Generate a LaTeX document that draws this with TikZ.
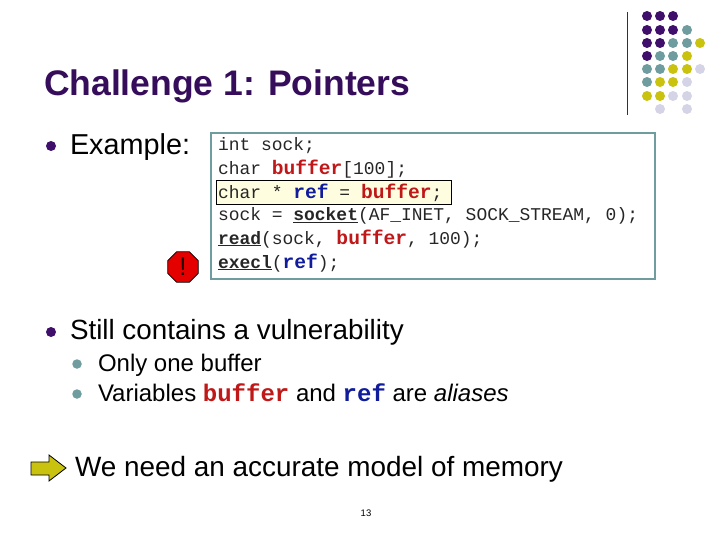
\documentclass[tikz,border=0pt]{standalone}
\usepackage{fontspec}
\setmainfont{Liberation Sans}
\setmonofont{Liberation Mono}
\usetikzlibrary{shapes.geometric}
\definecolor{cpurple}{HTML}{3F0F6B}
\definecolor{cteal}{HTML}{6F9C9E}
\definecolor{cyellow}{HTML}{C9C30F}
\definecolor{clav}{HTML}{D4D4E6}
\definecolor{cred}{HTML}{C01818}
\definecolor{cblue}{HTML}{101C9C}
\newcommand{\px}[1]{\fontsize{#1}{#1}\selectfont}
\newcommand{\cd}{\px{17.95}\ttfamily}
\newcommand{\rb}[1]{{\px{19.6}\ttfamily\bfseries\color{cred}#1}}
\newcommand{\bl}[1]{{\px{19.6}\ttfamily\bfseries\color{cblue}#1}}
\newcommand{\fn}[1]{{\ttfamily\bfseries\underline{#1}}}
\tikzset{
 txt/.style={anchor=base west,inner sep=0pt,outer sep=0pt,text=black},
 code/.style={txt,font=\cd,text=black!85},
 dotp/.style={circle,fill=#1,inner sep=0pt,minimum size=10pt,draw=none}
}
\begin{document}
\begin{tikzpicture}[x=1pt,y=-1pt]
\useasboundingbox[fill=white] (0,0) rectangle (720,540);
% decoration
\draw[line width=1pt,black!80] (627,12) -- (627,115);
\foreach \x/\y/\c in {647/16/cpurple,660/16/cpurple,673/16/cpurple,
 647/30/cpurple,660/30/cpurple,673/30/cpurple,687/30/cteal,
 647/43/cpurple,660/43/cpurple,673/43/cteal,687/43/cteal,700/43/cyellow,
 647/56/cpurple,660/56/cteal,673/56/cteal,687/56/cyellow,
 647/69/cteal,660/69/cteal,673/69/cyellow,687/69/cyellow,700/69/clav,
 647/82/cteal,660/82/cyellow,673/82/cyellow,687/82/clav,
 647/96/cyellow,660/96/cyellow,673/96/clav,687/96/clav,
 660/109/clav,687/109/clav}
 \node[dotp=\c] at (\x,\y) {};
% title
\node[txt,font=\px{35.5}\bfseries,text=cpurple!85!black] (title) at (44,95.5) {Challenge 1: Pointers};
% bullets
\node[dotp=cpurple] (b1) at (51,146) {};
\node[txt,font=\px{28.8}] (ex) at (70,155) {Example:};
\node[dotp=cpurple] (b2) at (51,332) {};
\node[txt,font=\px{27.8}] (still) at (70,339) {Still contains a vulnerability};
\node[dotp=cteal,minimum size=9.5pt] (b3) at (77,364) {};
\node[txt,font=\px{24}] (only) at (98,371) {Only one buffer};
\node[dotp=cteal,minimum size=9.5pt] (b4) at (77,394) {};
\node[txt,font=\px{24}] (vars) at (98,401) {Variables {\px{24}\ttfamily\bfseries\color{cred}buffer} and {\px{24}\ttfamily\bfseries\color{cblue}ref} are \textit{aliases}};
% code box
\node[draw=cteal,line width=2pt,fill=white,minimum width=443.5pt,minimum height=145.5pt,inner sep=0pt,anchor=north west] (box) at (210,132.5) {};
\node[draw=black,line width=.8pt,fill=yellow!12,minimum width=235pt,minimum height=23.5pt,inner sep=0pt,anchor=north west] (hl) at (216,180.5) {};
\node[code] (l1) at (218,151) {int sock;};
\node[code] (l2) at (218,175) {char \rb{buffer}[100];};
\node[code] (l3) at (218,199) {char * \bl{ref} = \rb{buffer};};
\node[code] (l4) at (218,221) {sock = \fn{socket}(AF\_INET, SOCK\_STREAM, 0);};
\node[code] (l5) at (218,244) {\fn{read}(sock, \rb{buffer}, 100);};
\node[code] (l6) at (218,268) {\fn{execl}(\bl{ref});};
% stop sign
\node[regular polygon,regular polygon sides=8,draw=black,line width=.7pt,fill=red!90!black,minimum size=33pt,inner sep=0pt] (stop) at (183,267) {};
\node[font=\px{26},text=black!85!red,inner sep=0pt] (bang) at (183,267) {!};
% arrow
\draw[black,line width=.8pt,fill=cyellow,line join=miter]
  (31,462) -- (49,462) -- (49,455) -- (66,468) -- (49,481) -- (49,475) -- (31,475) -- cycle;
\node[txt,font=\px{27.9}] (need) at (75,476) {We need an accurate model of memory};
\node[font=\px{9.5},inner sep=0pt] (pg) at (366,513) {13};
\end{tikzpicture}
\end{document}
